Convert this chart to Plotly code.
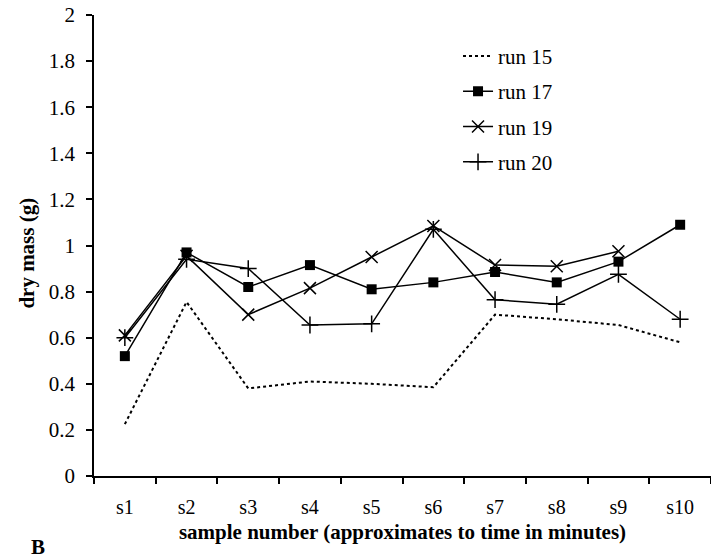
import plotly.graph_objects as go

samples = ["s1", "s2", "s3", "s4", "s5", "s6", "s7", "s8", "s9", "s10"]
run15 = [0.225, 0.755, 0.38, 0.41, 0.40, 0.385, 0.70, 0.68, 0.655, 0.58]
run17 = [0.52, 0.97, 0.82, 0.915, 0.81, 0.84, 0.885, 0.84, 0.93, 1.09]
run19 = [0.61, 0.955, 0.70, 0.815, 0.95, 1.085, 0.915, 0.91, 0.975, None]
run20 = [0.60, 0.94, 0.90, 0.655, 0.66, 1.07, 0.765, 0.745, 0.875, 0.68]
yticks = [0, 0.2, 0.4, 0.6, 0.8, 1, 1.2, 1.4, 1.6, 1.8, 2]

FONT = "Liberation Serif"

fig = go.Figure()
fig.add_trace(go.Scatter(x=samples, y=run15, name="run 15", mode="lines",
                         line=dict(color="black", width=2, dash="dot"),
                         legendgroup="a"))
fig.add_trace(go.Scatter(x=samples, y=run17, name="run 17", mode="lines+markers",
                         line=dict(color="black", width=1.5),
                         marker=dict(symbol="square", size=10, color="black"),
                         legendgroup="b"))
fig.add_trace(go.Scatter(x=samples, y=run19, name="run 19", mode="lines+markers",
                         line=dict(color="black", width=1.5),
                         marker=dict(symbol="x-thin-open", size=12,
                                     line=dict(color="black", width=1.5)),
                         legendgroup="c"))
fig.add_trace(go.Scatter(x=samples, y=run20, name="run 20", mode="lines+markers",
                         line=dict(color="black", width=1.5),
                         marker=dict(symbol="cross-thin-open", size=12,
                                     line=dict(color="black", width=1.5)),
                         legendgroup="d"))

fig.update_layout(
    width=711, height=559,
    margin=dict(l=94, r=0, t=15, b=83),
    paper_bgcolor="white", plot_bgcolor="white",
    font=dict(family=FONT, size=20, color="black"),
    showlegend=True,
    legend=dict(x=0.59, y=0.955, xanchor="left", yanchor="top",
                bgcolor="rgba(0,0,0,0)", traceorder="grouped",
                tracegroupgap=5, font=dict(size=21, family=FONT)),
    xaxis=dict(type="category", range=[-0.5, 9.5], showgrid=False,
               showline=True, linecolor="black", linewidth=1.5,
               ticks="outside", ticklen=6, tickcolor="black", tickwidth=1.5,
               tickson="boundaries", ticklabelstandoff=12,
               tickfont=dict(size=20, family=FONT),
               title=dict(text="<b>sample number (approximates to time in minutes)</b>",
                          font=dict(size=21, family=FONT), standoff=8),
               zeroline=False),
    yaxis=dict(range=[0, 2], tickvals=yticks,
               ticktext=[f"{v:g}" for v in yticks],
               showgrid=False, showline=True, linecolor="black", linewidth=1.5,
               ticks="outside", ticklen=6, tickcolor="black", tickwidth=1.5,
               ticklabelstandoff=7,
               tickfont=dict(size=21, family=FONT),
               zeroline=False),
)
fig.add_annotation(text="<b>dry mass (g)</b>", xref="paper", yref="paper",
                   x=-0.109, y=0.484, xanchor="center", yanchor="middle",
                   textangle=-90, showarrow=False,
                   font=dict(size=21, family=FONT))
fig.add_annotation(text="<b>B</b>", xref="paper", yref="paper",
                   x=-0.09, y=-0.155, xanchor="center", yanchor="middle",
                   showarrow=False, font=dict(size=21, family=FONT))

fig.write_html("out.html")
